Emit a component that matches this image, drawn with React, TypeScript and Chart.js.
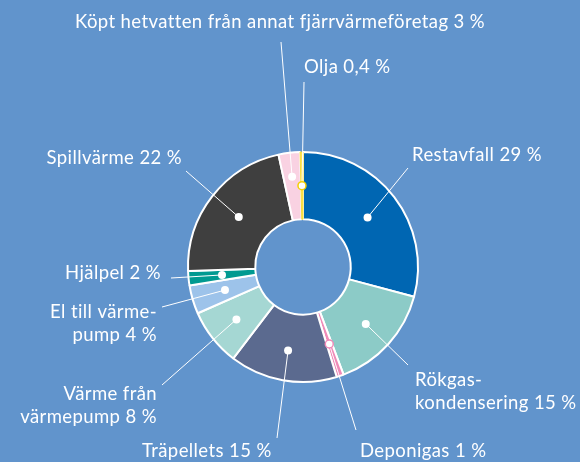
import React, { useEffect, useRef } from 'react';
import { Chart, registerables } from 'chart.js';

Chart.register(...registerables);

// ---- data ----
const categories = [
  'Restavfall',
  'Rökgaskondensering',
  'Deponigas',
  'Träpellets',
  'Värme från värmepump',
  'El till värmepump',
  'Hjälpel',
  'Spillvärme',
  'Köpt hetvatten från annat fjärrvärmeföretag',
  'Olja',
];
const shares = [29, 15, 1, 15, 8, 4, 2, 22, 3, 0.4];
const labelTexts = [
  ['Restavfall 29 %'],
  ['Rökgas-', 'kondensering 15 %'],
  ['Deponigas 1 %'],
  ['Träpellets 15 %'],
  ['Värme från', 'värmepump 8 %'],
  ['El till värme-', 'pump 4 %'],
  ['Hjälpel 2 %'],
  ['Spillvärme 22 %'],
  ['Köpt hetvatten från annat fjärrvärmeföretag 3 %'],
  ['Olja 0,4 %'],
];

// ---- styles / layout ----
const BG = '#6194cc';
const sliceColors = [
  '#0066b2',
  '#8ccbc7',
  '#ef8bb8',
  '#5b6a8f',
  '#a5d7d3',
  '#9dc3ea',
  '#009a91',
  '#3f3f3f',
  '#f9d2e2',
  '#fde34f',
];
const sliceBorderColors = [
  '#ffffff', '#ffffff', '#ffffff', '#ffffff', '#ffffff',
  '#ffffff', '#ffffff', '#ffffff', '#ffffff', '#f7dc3c',
];
const sliceBorderWidths = [2, 2, 2, 2, 2, 2, 2, 2, 2, 1];
const dotStroke = [null, null, '#ef8bb8', null, null, null, null, null, null, '#f5d000'];

type LabelLayout = {
  x: number;
  y: number;
  align: CanvasTextAlign;
  end: [number, number];
  dotR?: number;
};
const labelLayout: LabelLayout[] = [
  { x: 412, y: 155, align: 'left', end: [408, 168] },
  { x: 415, y: 380, align: 'left', end: [408, 365], dotR: 0.55 },
  { x: 360, y: 451, align: 'left', end: [356, 430] },
  { x: 142, y: 451, align: 'left', end: [277, 438], dotR: 0.55 },
  { x: 157, y: 394, align: 'right', end: [162, 385], dotR: 0.55 },
  { x: 157, y: 312, align: 'right', end: [162, 307] },
  { x: 161, y: 273, align: 'right', end: [171, 278] },
  { x: 182, y: 158, align: 'right', end: [186, 171] },
  { x: 280, y: 22, align: 'center', end: [281, 42], dotR: 0.64 },
  { x: 304, y: 67, align: 'left', end: [304, 82] },
];
const LINE_H = 23;
const FONT = '18.5px Lato';

const labelsPlugin = {
  id: 'calloutLabels',
  afterDatasetsDraw(chart: any) {
    const ctx = chart.ctx as CanvasRenderingContext2D;
    const meta = chart.getDatasetMeta(0);
    ctx.save();
    meta.data.forEach((arc: any, i: number) => {
      const p = arc.getProps(['x', 'y', 'startAngle', 'endAngle', 'innerRadius', 'outerRadius'], true);
      const lay = labelLayout[i];
      const mid = (p.startAngle + p.endAngle) / 2;
      const f = lay.dotR ?? 0.5;
      const r = p.innerRadius + (p.outerRadius - p.innerRadius) * f;
      const dx = p.x + Math.cos(mid) * r;
      const dy = p.y + Math.sin(mid) * r;
      // leader line
      ctx.strokeStyle = '#ffffff';
      ctx.lineWidth = 1;
      ctx.beginPath();
      ctx.moveTo(dx, dy);
      ctx.lineTo(lay.end[0], lay.end[1]);
      ctx.stroke();
      // dot
      ctx.beginPath();
      ctx.arc(dx, dy, 4, 0, Math.PI * 2);
      ctx.fillStyle = '#ffffff';
      ctx.fill();
      if (dotStroke[i]) {
        ctx.lineWidth = 1.5;
        ctx.strokeStyle = dotStroke[i] as string;
        ctx.stroke();
      }
      // text
      ctx.fillStyle = '#ffffff';
      ctx.font = FONT;
      (ctx as any).letterSpacing = '0.4px';
      ctx.textAlign = lay.align;
      ctx.textBaseline = 'middle';
      labelTexts[i].forEach((line, j) => {
        ctx.fillText(line, lay.x, lay.y + j * LINE_H);
      });
    });
    ctx.restore();
  },
};

export default function App() {
  const ref = useRef<HTMLCanvasElement>(null);
  useEffect(() => {
    document.body.style.margin = '0';
    const chart = new Chart(ref.current as HTMLCanvasElement, {
      type: 'doughnut',
      data: {
        labels: categories,
        datasets: [
          {
            data: shares,
            backgroundColor: sliceColors,
            borderColor: sliceBorderColors,
            borderWidth: sliceBorderWidths,
          },
        ],
      },
      options: {
        responsive: false,
        animation: false,
        cutout: '41.5%',
        layout: { padding: { left: 187, top: 151, right: 161, bottom: 79 } },
        plugins: {
          legend: { display: false },
          tooltip: { enabled: false },
        },
      },
      plugins: [labelsPlugin],
    });
    return () => chart.destroy();
  }, []);
  return (
    <div style={{ position: 'fixed', left: 0, top: 0, width: 580, height: 462, background: BG }}>
      <canvas ref={ref} width={580} height={462} style={{ display: 'block' }} />
    </div>
  );
}
